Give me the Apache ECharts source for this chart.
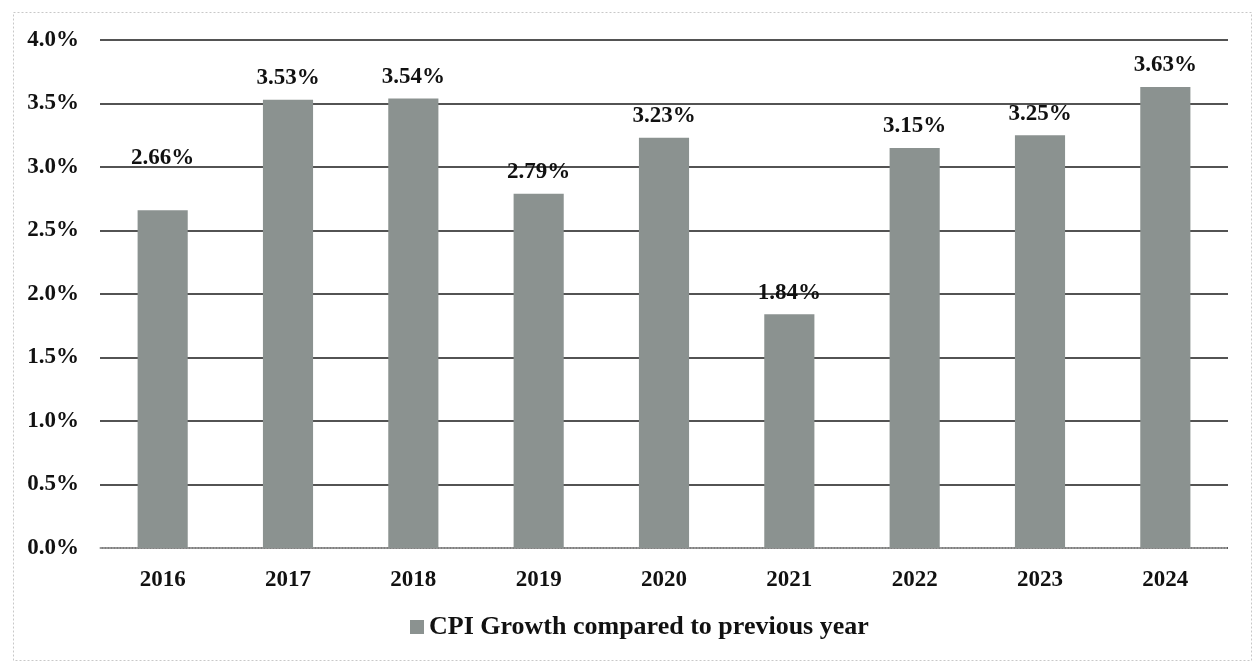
<!DOCTYPE html>
<html>
<head>
<meta charset="utf-8">
<script src="https://cdn.jsdelivr.net/npm/echarts@6/dist/echarts.min.js"></script>
<style>html,body{margin:0;padding:0;background:#fff;}#c{width:1254px;height:661px;}</style>
</head>
<body>
<div id="c"></div>
<script>
const categories = ['2016','2017','2018','2019','2020','2021','2022','2023','2024'];
const cpiGrowth = [2.66, 3.53, 3.54, 2.79, 3.23, 1.84, 3.15, 3.25, 3.63];
const seriesName = 'CPI Growth compared to previous year';

const font = '"Liberation Serif", "Times New Roman", serif';
const chart = echarts.init(document.getElementById('c'));
chart.setOption({
  animation: false,
  backgroundColor: '#fff',
  graphic: [{
    type: 'rect', left: 11, top: 10,
    shape: { width: 1238, height: 648 },
    style: { fill: 'none', stroke: '#c8c8c8', lineWidth: 1, lineDash: [2, 2] },
    z: -1
  }],
  grid: { left: 100, right: 26, top: 40, bottom: 113 },
  legend: {
    bottom: 16, left: 405,
    itemWidth: 14, itemHeight: 14, itemGap: 6,
    textStyle: { fontFamily: font, fontWeight: 'bold', fontSize: 26, color: '#111' },
    data: [{ name: seriesName, icon: 'rect' }]
  },
  xAxis: {
    type: 'category', data: categories,
    axisLine: { lineStyle: { color: '#b0b0b0', type: 'dotted', width: 1.5 } },
    axisTick: { show: false },
    axisLabel: { margin: 21, fontFamily: font, fontWeight: 'bold', fontSize: 23, color: '#111' }
  },
  yAxis: {
    type: 'value', min: 0, max: 4, interval: 0.5,
    axisLine: { show: false }, axisTick: { show: false },
    axisLabel: { margin: 21, fontFamily: font, fontWeight: 'bold', fontSize: 23, color: '#111',
      formatter: v => v === 0 ? '0.0%' : v.toFixed(1) + '%' },
    splitLine: { lineStyle: { color: '#1a1a1a', width: 1.6 } }
  },
  series: [{
    name: seriesName, type: 'bar', barWidth: '40%',
    itemStyle: { color: '#8b9290' },
    label: { show: true, position: 'top', distance: 10, fontFamily: font, fontWeight: 'bold', fontSize: 23, color: '#111',
      formatter: p => p.value.toFixed(2) + '%' },
    data: cpiGrowth.map((v, i) => i === 0 ? { value: v, label: { offset: [0, -31] } } : v)
  }]
});
</script>
</body>
</html>
